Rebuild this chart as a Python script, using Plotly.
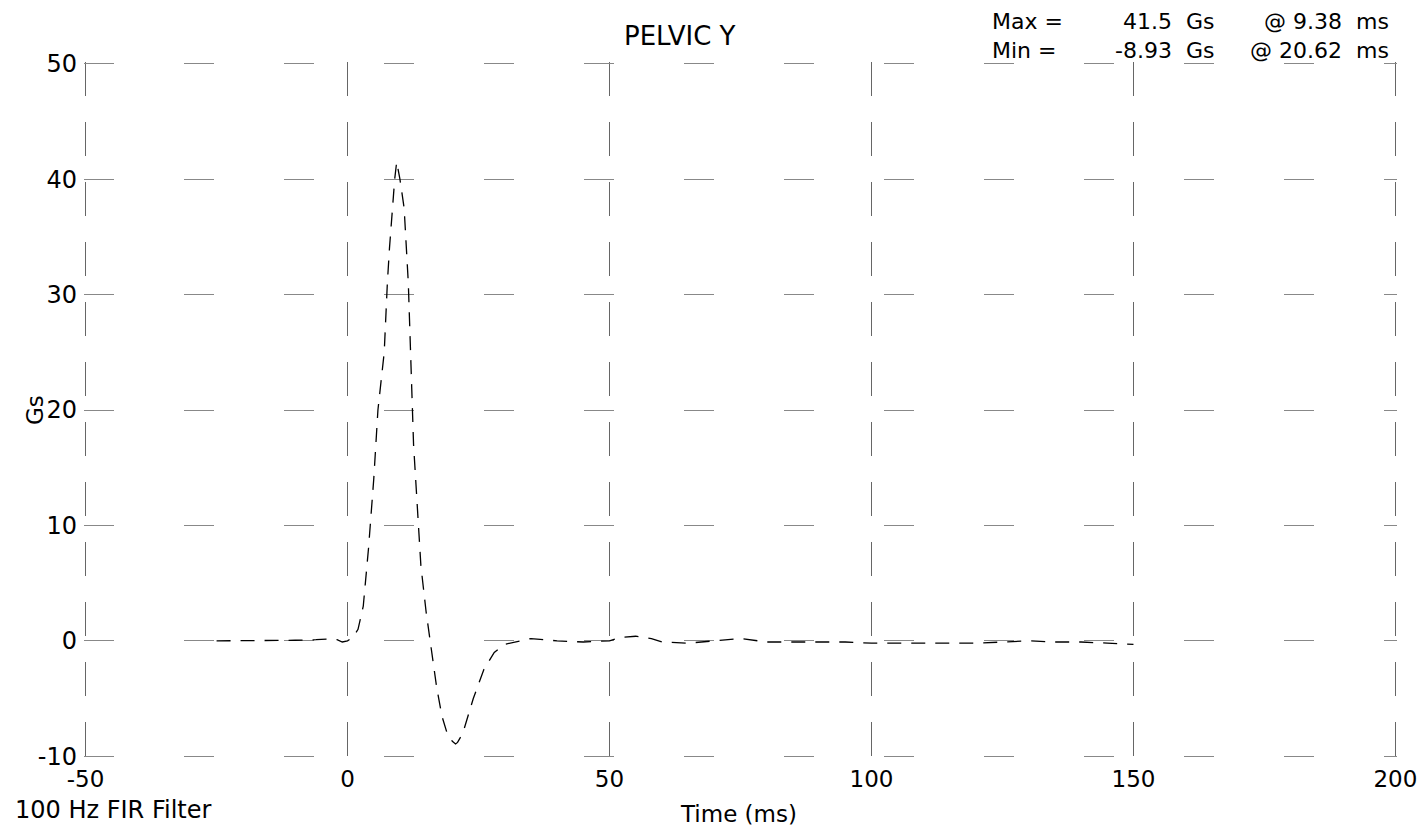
import plotly.graph_objects as go

# Data
time_ms = [-25, -20, -15, -10, -6, -4, -2, -1, 0, 1, 2, 3, 4, 5, 5.8, 7, 7.6, 8, 9, 9.38, 10, 10.8,
           11.6, 12.6, 13, 14, 15, 16, 17, 18, 19, 20, 20.62, 21, 22, 24, 26, 28, 30, 35, 40, 45,
           50, 52, 55, 58, 60, 65, 70, 75, 80, 85, 90, 95, 100, 105, 110, 120, 125, 130, 135, 140,
           145, 150]
pelvic_y = [0.0, 0.0, 0.0, 0.05, 0.1, 0.15, 0.1, -0.1, 0.0, 0.3, 1.0, 3.0, 8.0, 14.0, 20.0, 25.0,
            31.0, 34.0, 40.0, 41.5, 40.0, 37.5, 31.0, 17.0, 14.0, 6.5, 2.5, -1.0, -4.0, -6.5, -8.0,
            -8.7, -8.93, -8.8, -8.0, -5.0, -2.5, -1.0, -0.3, 0.2, 0.0, -0.1, 0.0, 0.3, 0.4, 0.2,
            -0.1, -0.2, 0.0, 0.2, -0.1, -0.1, -0.1, -0.1, -0.2, -0.2, -0.2, -0.2, -0.1, 0.0, -0.1,
            -0.1, -0.2, -0.3]

x_ticks = [-50, 0, 50, 100, 150, 200]
y_ticks = [-10, 0, 10, 20, 30, 40, 50]

stat_labels = ["Max =", "Min ="]
stat_values = ["41.5", "-8.93"]
stat_times = ["9.38", "20.62"]

FONT = "DejaVu Sans, Liberation Sans, Arial, sans-serif"
FS = 23
NB = "\u00a0"

L, R, T, B = 84, 21, 62, 72
W, H = 1418, 830
PW, PH = W - L - R, H - T - B

fig = go.Figure()
fig.add_trace(go.Scatter(x=time_ms, y=pelvic_y, mode="lines",
                         line=dict(color="black", width=1.3, dash="14px,10px"),
                         showlegend=False, hoverinfo="skip"))

fig.update_layout(
    width=W, height=H, autosize=False,
    margin=dict(l=L, r=R, t=T, b=B, autoexpand=False),
    paper_bgcolor="white", plot_bgcolor="white",
    font=dict(family=FONT, size=FS, color="black"),
    xaxis=dict(range=[-50.3, 200.3], tickvals=x_ticks, ticktext=[str(v) for v in x_ticks],
               showgrid=True, gridcolor="#666666", gridwidth=1, griddash="34px,26px",
               zeroline=False, showline=False, ticks="", ticklabelstandoff=5, automargin=False,
               tickfont=dict(family=FONT, size=23)),
    yaxis=dict(range=[-10.15, 50.15], tickvals=y_ticks, ticktext=[str(v) for v in y_ticks],
               showgrid=True, gridcolor="#888888", gridwidth=1, griddash="30px,70px",
               zeroline=False, showline=False, ticks="", ticklabelstandoff=6, automargin=False,
               tickfont=dict(family=FONT, size=24)),
)

def px_x(px):
    return (px - L) / PW

def px_y(py):
    return (H - B - py) / PH

col1 = "<br>".join(stat_labels)
col2 = "<br>".join(v + NB + NB + "Gs" for v in stat_values)
col3 = "<br>".join("@" + NB + t + NB + NB + "ms" for t in stat_times)

ann = [
    dict(text="PELVIC Y", x=px_x(680), y=px_y(36), xanchor="center", yanchor="middle", size=26),
    dict(text=col1, x=px_x(990), y=px_y(36), xanchor="left", yanchor="middle", align="left", size=22),
    dict(text=col2, x=px_x(1216), y=px_y(36), xanchor="right", yanchor="middle", align="right", size=22),
    dict(text=col3, x=px_x(1391), y=px_y(36), xanchor="right", yanchor="middle", align="right", size=22),
    dict(text="100 Hz FIR Filter", x=px_x(13), y=px_y(810), xanchor="left", yanchor="middle", size=24),
    dict(text="Time (ms)", x=px_x(738), y=px_y(814), xanchor="center", yanchor="middle"),
    dict(text="Gs", x=px_x(35), y=px_y(410), xanchor="center", yanchor="middle", textangle=-90),
]
for a in ann:
    size = a.pop("size", FS)
    a.update(xref="paper", yref="paper", showarrow=False,
             font=dict(family=FONT, size=size, color="black"))
fig.update_layout(annotations=ann)

fig.write_html("out.html", config={"displayModeBar": False, "responsive": False},
               post_script="document.body.style.margin='0px';document.body.style.overflow='hidden';")
